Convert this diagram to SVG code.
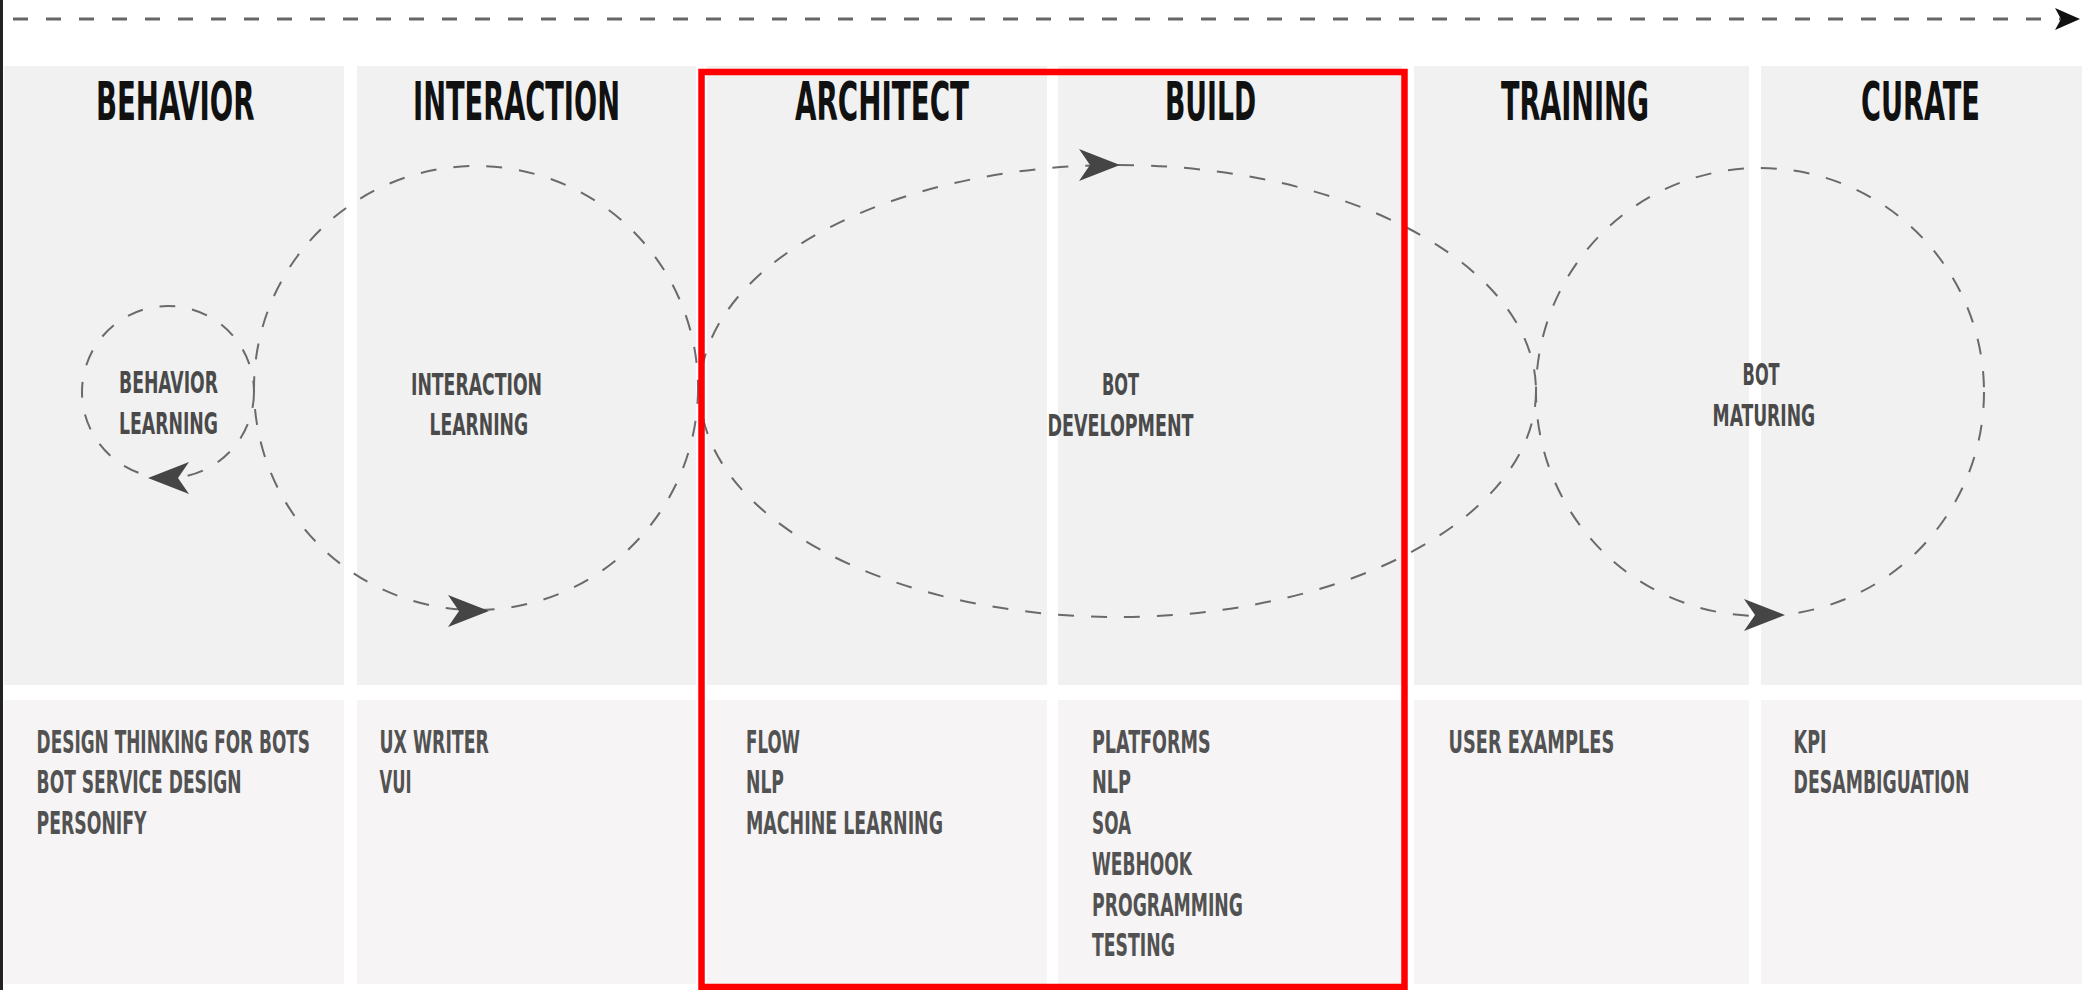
<svg xmlns="http://www.w3.org/2000/svg" width="2082" height="990" viewBox="0 0 2082 990">
<defs>
<style>
.ptop{fill:#f1f1f1}
.pbot{fill:#f6f4f4}
.hdr{font-family:'Liberation Sans Narrow','DejaVu Sans Condensed','Liberation Sans',sans-serif;font-weight:700;font-size:53px;fill:#111}
.lbl{font-family:'Liberation Sans Narrow','DejaVu Sans Condensed','Liberation Sans',sans-serif;font-weight:700;font-size:31px;fill:#4a4a4a}
.lst{font-family:'Liberation Sans Narrow','DejaVu Sans Condensed','Liberation Sans',sans-serif;font-weight:700;font-size:32px;fill:#525252}
.loop{fill:none;stroke:#6a6a6a;stroke-width:2;stroke-dasharray:16 17}
.time{fill:none;stroke:#666;stroke-width:3;stroke-dasharray:15 18}
.ah{fill:#454545}
</style>
<path id="ah" d="M0,0 L-41,-16 L-30,0 L-41,16 Z"/>
<marker id="tip" markerWidth="26" markerHeight="24" refX="25" refY="12" orient="auto" markerUnits="userSpaceOnUse">
<path d="M0,1 L25,12 L0,23 L6,12 Z" fill="#111"/>
</marker>
</defs>
<rect x="0" y="0" width="2082" height="990" fill="#ffffff"/>
<rect x="0" y="0" width="3" height="990" fill="#222"/>

<g id="col-behavior">
<rect class="ptop" x="4" y="66" width="340" height="619"/>
<rect class="pbot" x="4" y="700" width="340" height="284"/>
<text class="hdr" transform="translate(96,120) scale(0.6,1)" textLength="264.2" lengthAdjust="spacingAndGlyphs">BEHAVIOR</text>
<text class="lst" transform="translate(36.6,752.7) scale(0.6,1)" textLength="455.7" lengthAdjust="spacingAndGlyphs">DESIGN THINKING FOR BOTS</text>
<text class="lst" transform="translate(36.6,793.3) scale(0.6,1)" textLength="341.7" lengthAdjust="spacingAndGlyphs">BOT SERVICE DESIGN</text>
<text class="lst" transform="translate(36.6,834.3) scale(0.6,1)" textLength="183.3" lengthAdjust="spacingAndGlyphs">PERSONIFY</text>
</g>

<g id="col-interaction">
<rect class="ptop" x="357" y="66" width="339" height="619"/>
<rect class="pbot" x="357" y="700" width="339" height="284"/>
<text class="hdr" transform="translate(413,120) scale(0.6,1)" textLength="345" lengthAdjust="spacingAndGlyphs">INTERACTION</text>
<text class="lst" transform="translate(379.5,752.7) scale(0.6,1)" textLength="182.2" lengthAdjust="spacingAndGlyphs">UX WRITER</text>
<text class="lst" transform="translate(379.5,793.3) scale(0.6,1)" textLength="53.3" lengthAdjust="spacingAndGlyphs">VUI</text>
</g>

<g id="col-architect">
<rect class="ptop" x="707" y="66" width="340" height="619"/>
<rect class="pbot" x="707" y="700" width="340" height="284"/>
<text class="hdr" transform="translate(795,120) scale(0.6,1)" textLength="290" lengthAdjust="spacingAndGlyphs">ARCHITECT</text>
<text class="lst" transform="translate(746,752.7) scale(0.6,1)" textLength="90" lengthAdjust="spacingAndGlyphs">FLOW</text>
<text class="lst" transform="translate(746,793.3) scale(0.6,1)" textLength="63.3" lengthAdjust="spacingAndGlyphs">NLP</text>
<text class="lst" transform="translate(746,834.3) scale(0.6,1)" textLength="328.3" lengthAdjust="spacingAndGlyphs">MACHINE LEARNING</text>
</g>

<g id="col-build">
<rect class="ptop" x="1058" y="66" width="344" height="619"/>
<rect class="pbot" x="1058" y="700" width="344" height="284"/>
<text class="hdr" transform="translate(1165,120) scale(0.6,1)" textLength="151.7" lengthAdjust="spacingAndGlyphs">BUILD</text>
<text class="lst" transform="translate(1092,752.7) scale(0.6,1)" textLength="197.8" lengthAdjust="spacingAndGlyphs">PLATFORMS</text>
<text class="lst" transform="translate(1092,793.3) scale(0.6,1)" textLength="65" lengthAdjust="spacingAndGlyphs">NLP</text>
<text class="lst" transform="translate(1092,834.3) scale(0.6,1)" textLength="65" lengthAdjust="spacingAndGlyphs">SOA</text>
<text class="lst" transform="translate(1092,875) scale(0.6,1)" textLength="166.7" lengthAdjust="spacingAndGlyphs">WEBHOOK</text>
<text class="lst" transform="translate(1092,916) scale(0.6,1)" textLength="251.7" lengthAdjust="spacingAndGlyphs">PROGRAMMING</text>
<text class="lst" transform="translate(1092,956.3) scale(0.6,1)" textLength="138.3" lengthAdjust="spacingAndGlyphs">TESTING</text>
</g>

<g id="col-training">
<rect class="ptop" x="1414" y="66" width="335" height="619"/>
<rect class="pbot" x="1414" y="700" width="335" height="284"/>
<text class="hdr" transform="translate(1501,120) scale(0.6,1)" textLength="246.7" lengthAdjust="spacingAndGlyphs">TRAINING</text>
<text class="lst" transform="translate(1448.6,752.7) scale(0.6,1)" textLength="276" lengthAdjust="spacingAndGlyphs">USER EXAMPLES</text>
</g>

<g id="col-curate">
<rect class="ptop" x="1761" y="66" width="321" height="619"/>
<rect class="pbot" x="1761" y="700" width="321" height="284"/>
<text class="hdr" transform="translate(1861,120) scale(0.6,1)" textLength="198.3" lengthAdjust="spacingAndGlyphs">CURATE</text>
<text class="lst" transform="translate(1793.6,752.7) scale(0.6,1)" textLength="55" lengthAdjust="spacingAndGlyphs">KPI</text>
<text class="lst" transform="translate(1793.6,793.3) scale(0.6,1)" textLength="293.3" lengthAdjust="spacingAndGlyphs">DESAMBIGUATION</text>
</g>

<g id="connectors">
<line class="time" x1="13" y1="19" x2="2080" y2="19" marker-end="url(#tip)"/>
<circle class="loop" cx="168" cy="392" r="86"/>
<circle class="loop" cx="476" cy="388" r="222"/>
<ellipse class="loop" cx="1118" cy="391" rx="418" ry="226"/>
<circle class="loop" cx="1760" cy="392" r="224"/>
<use href="#ah" class="ah" transform="translate(148,478) rotate(180)"/>
<use href="#ah" class="ah" transform="translate(489,611)"/>
<use href="#ah" class="ah" transform="translate(1120,165)"/>
<use href="#ah" class="ah" transform="translate(1785,615)"/>
</g>

<g id="loop-behavior-learning">
<text class="lbl" transform="translate(119,392.7) scale(0.6,1)" textLength="165" lengthAdjust="spacingAndGlyphs">BEHAVIOR</text>
<text class="lbl" transform="translate(119,433.5) scale(0.6,1)" textLength="165" lengthAdjust="spacingAndGlyphs">LEARNING</text>
</g>
<g id="loop-interaction-learning">
<text class="lbl" transform="translate(411,394.5) scale(0.6,1)" textLength="218.3" lengthAdjust="spacingAndGlyphs">INTERACTION</text>
<text class="lbl" transform="translate(429.5,435.3) scale(0.6,1)" textLength="164.2" lengthAdjust="spacingAndGlyphs">LEARNING</text>
</g>
<g id="loop-bot-development">
<text class="lbl" transform="translate(1102,395) scale(0.6,1)" textLength="61.7" lengthAdjust="spacingAndGlyphs">BOT</text>
<text class="lbl" transform="translate(1047.5,436) scale(0.6,1)" textLength="243.3" lengthAdjust="spacingAndGlyphs">DEVELOPMENT</text>
</g>
<g id="loop-bot-maturing">
<text class="lbl" transform="translate(1742.6,385) scale(0.6,1)" textLength="61.7" lengthAdjust="spacingAndGlyphs">BOT</text>
<text class="lbl" transform="translate(1712.6,425.7) scale(0.6,1)" textLength="170.8" lengthAdjust="spacingAndGlyphs">MATURING</text>
</g>

<g id="highlight">
<rect x="701.5" y="72" width="703" height="915" fill="none" stroke="#ff0000" stroke-width="6.5"/>
</g>
</svg>
